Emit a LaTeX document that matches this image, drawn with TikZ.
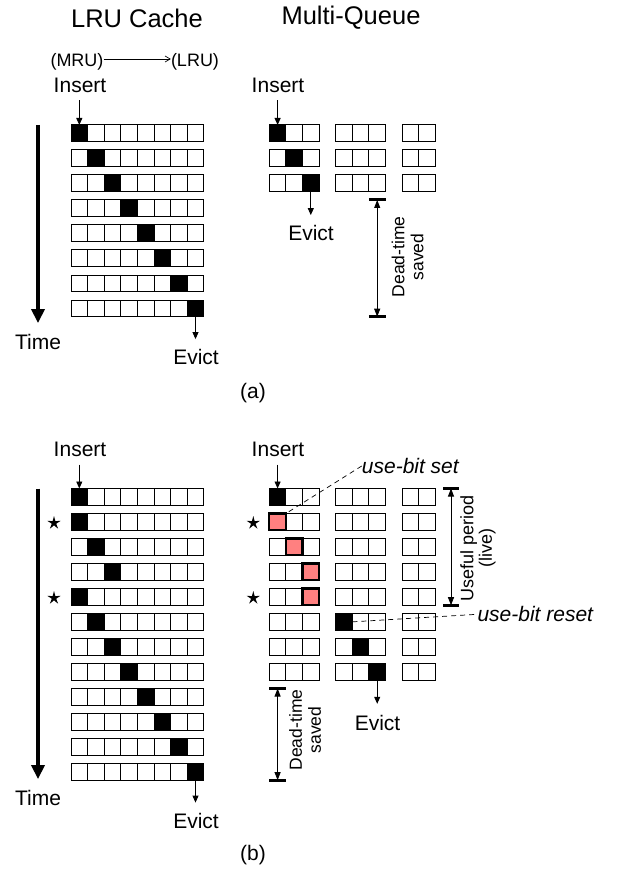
\documentclass[tikz,border=0pt]{standalone}
\usepackage{fontspec}
\setmainfont{Liberation Sans}
\usetikzlibrary{arrows.meta,shapes.geometric}
\definecolor{usedpink}{RGB}{255,128,128}
\begin{document}
\begin{tikzpicture}[x=1pt,y=-1pt,
  cellk0/.style={draw,line width=1pt,minimum width=16.6pt,minimum height=16.7pt,inner sep=0pt,outer sep=0pt,anchor=north west},
  cellk1/.style={cellk0,fill=black},
  cellk2/.style={cellk0,fill=usedpink,line width=2.2pt},
  lbl/.style={font=\fontsize{21}{24}\selectfont,inner sep=0pt},
  title/.style={font=\fontsize{25.5}{28}\selectfont,inner sep=0pt},
  small/.style={font=\fontsize{18}{20}\selectfont,inner sep=0pt},
  note/.style={font=\fontsize{21}{24}\selectfont\itshape,inner sep=0pt,anchor=west},
  vlbl/.style={font=\fontsize{17.5}{19}\selectfont,inner sep=0pt,rotate=90,align=center},
  arr/.style={line width=0.9pt,-{Triangle[length=7pt,width=6pt]}},
  timearr/.style={line width=3.5pt,-{Triangle[length=14pt,width=13pt]}},
  dimline/.style={line width=0.9pt,{Triangle[length=8pt,width=6pt]}-{Triangle[length=8pt,width=6pt]}},
  capline/.style={line width=3pt},
  leader/.style={line width=0.7pt,dash pattern=on 5pt off 4pt},
  starmark/.style={star,star points=5,star point ratio=3,fill=black,draw=none,minimum size=14pt,inner sep=0pt}
]
\useasboundingbox (0,0) rectangle (618,874);

% titles
\node[title] (t1) at (137,18) {LRU Cache};
\node[title] (t2) at (351,18) {Multi-Queue};

% ---------- (a) ----------
\foreach \r in {0,...,7} {
  \foreach \c in {0,...,7} {
    \pgfmathtruncatemacro\st{\c==\r}
    \node[cellk\st] (la-\r-\c) at ({71+16.6*\c},{125+25*\r}) {};
  }
}
\foreach \r in {0,1,2} {
  \foreach \c in {0,1,2,4,5,6,8,9} {
    \pgfmathtruncatemacro\st{\c==\r}
    \node[cellk\st] (ma-\r-\c) at ({269.3+16.6*\c},{125+25*\r}) {};
  }
}

\node[small] (mru) at (77,62) {(MRU)};
\node[small] (lru) at (195,62) {(LRU)};
\draw[line width=0.7pt,-{Straight Barb[length=5pt,width=6pt]}] ([yshift=3pt]mru.east) -- ([yshift=3pt]lru.west);

\node[lbl] (insA1) at (80,85) {Insert};
\draw[arr,shorten <=7.5pt] (insA1.south -| la-0-0.north) -- (la-0-0.north);
\node[lbl] (insA2) at (278,85) {Insert};
\draw[arr,shorten <=7.5pt] (insA2.south -| ma-0-0.north) -- (ma-0-0.north);

\node[lbl] (timeA) at (38,342) {Time};
\draw[timearr,shorten >=11pt] (timeA.north |- la-0-0.north) -- (timeA.north);

\node[lbl] (evA1) at (196,357) {Evict};
\draw[arr,shorten >=10pt] (la-7-7.south) -- (evA1.north -| la-7-7.south);
\node[lbl] (evA2) at (311,233) {Evict};
\draw[arr,shorten >=10pt] (ma-2-2.south) -- (evA2.north -| ma-2-2.south);

\coordinate (dtA1) at (ma-2-6.north |- la-3-0.north);
\coordinate (dtA2) at (ma-2-6.north |- la-7-0.south);
\draw[capline] ([xshift=-8.3pt]dtA1) -- ([xshift=8.3pt]dtA1);
\draw[capline] ([xshift=-8.3pt]dtA2) -- ([xshift=8.3pt]dtA2);
\draw[dimline] (dtA1) -- (dtA2);
\node[vlbl] (dtAl) at (407.5,257) {Dead-time\\saved};

\node[lbl] (capa) at (253,393) {(a)};

% ---------- (b) ----------
\foreach \r/\b in {0/0,1/0,2/1,3/2,4/0,5/1,6/2,7/3,8/4,9/5,10/6,11/7} {
  \foreach \c in {0,...,7} {
    \pgfmathtruncatemacro\st{\c==\b}
    \node[cellk\st] (lb-\r-\c) at ({71+16.6*\c},{488.5+25*\r}) {};
  }
}
\foreach \r/\b/\k in {0/0/1,1/0/2,2/1/2,3/2/2,4/2/2,5/4/1,6/5/1,7/6/1} {
  \foreach \c in {0,1,2,4,5,6,8,9} {
    \pgfmathtruncatemacro\st{(\c==\b)*\k}
    \node[cellk\st] (mb-\r-\c) at ({269.3+16.6*\c},{488.5+25*\r}) {};
  }
}

\node[lbl] (insB1) at (80,449) {Insert};
\draw[arr,shorten <=8pt] (insB1.south -| lb-0-0.north) -- (lb-0-0.north);
\node[lbl] (insB2) at (278,449) {Insert};
\draw[arr,shorten <=8pt] (insB2.south -| mb-0-0.north) -- (mb-0-0.north);

\node[note] (ubs) at (361.7,466) {use-bit set};
\draw[leader] (ubs.west) -- (mb-1-0.north east);

\node[starmark] (s1) at (54,523) {};
\node[starmark] (s2) at (54,598) {};
\node[starmark] (s3) at (253.3,523) {};
\node[starmark] (s4) at (253.3,598) {};

\node[lbl] (timeB) at (38,798) {Time};
\draw[timearr,shorten >=11pt] (timeB.north |- lb-0-0.north) -- (timeB.north);

\node[lbl] (evB1) at (196,821) {Evict};
\draw[arr,shorten >=10.5pt] (lb-11-7.south) -- (evB1.north -| lb-11-7.south);
\node[lbl] (evB2) at (377.5,722.7) {Evict};
\draw[arr,shorten >=11pt] (mb-7-6.south) -- (evB2.north -| mb-7-6.south);

\coordinate (dtB1) at (mb-7-0.north |- lb-8-0.north);
\coordinate (dtB2) at (mb-7-0.north |- lb-11-0.south);
\draw[capline] ([xshift=-8.3pt]dtB1) -- ([xshift=8.3pt]dtB1);
\draw[capline] ([xshift=-8.3pt]dtB2) -- ([xshift=8.3pt]dtB2);
\draw[dimline] (dtB1) -- (dtB2);
\node[vlbl] (dtBl) at (305,730) {Dead-time\\saved};

\coordinate (up1) at ([xshift=15.7pt]mb-0-9.north east);
\coordinate (up2) at ([xshift=15.7pt]mb-4-9.south east);
\draw[capline] ([xshift=-8pt]up1) -- ([xshift=8pt]up1);
\draw[capline] ([xshift=-8pt]up2) -- ([xshift=8pt]up2);
\draw[dimline] (up1) -- (up2);
\node[vlbl,font=\fontsize{18}{18.5}\selectfont] (upl) at (478,548) {Useful period\\(live)};

\node[note] (ubr) at (477.3,614.3) {use-bit reset};
\draw[leader] (mb-5-4.east) -- (ubr.west);

\node[lbl] (capb) at (253,855) {(b)};
\end{tikzpicture}
\end{document}
